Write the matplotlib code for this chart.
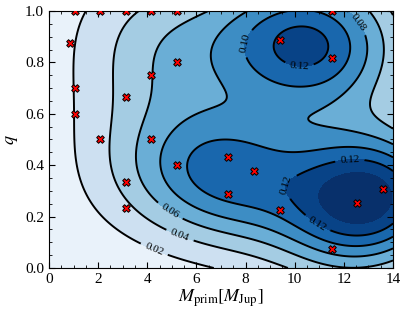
import numpy as np
import matplotlib
matplotlib.use("Agg")
import matplotlib.pyplot as plt

plt.rcParams['font.family'] = 'serif'
plt.rcParams['font.serif'] = ['Liberation Serif', 'DejaVu Serif']
plt.rcParams['mathtext.fontset'] = 'stix'

# planets: primary mass [M_Jup], mass ratio q, weight used in the KDE
m_prim = [1.04, 2.08, 3.12, 4.16, 5.20, 11.50,
          0.85, 1.04, 1.04, 3.12, 4.16, 5.20,
          2.08, 4.16, 5.20, 3.12, 3.12,
          9.40, 11.50, 7.30, 8.36, 7.30, 9.40,
          12.55, 13.60, 11.50]
q_vals = [1.00, 1.00, 1.00, 1.00, 1.00, 1.00,
          0.874, 0.70, 0.60, 0.667, 0.75, 0.80,
          0.50, 0.50, 0.40, 0.335, 0.233,
          0.888, 0.817, 0.431, 0.376, 0.288, 0.224,
          0.252, 0.309, 0.075]
weights = [0.008, 0.014, 0.025, 0.05, 0.078, 0.14,
           0.008, 0.008, 0.008, 0.025, 0.062, 0.19,
           0.014, 0.062, 0.19, 0.034, 0.034,
           0.48, 0.42, 0.22, 0.17, 0.245, 0.04,
           0.62, 0.45, 0.1]

levels = [0.0, 0.02, 0.04, 0.06, 0.08, 0.10, 0.12, 0.14]
line_levels = [0.02, 0.04, 0.06, 0.08, 0.10, 0.12]
label_pos = [(4.4, 0.10), (5.3, 0.12), (12.8, 0.97), (4.85, 0.21),
             (7.8, 0.88), (8.6, 0.36), (10.2, 0.80), (11.1, 0.20),
             (12.3, 0.33)]

bw_x, bw_q = 2.3, 0.18


def weighted_kde(xx, yy):
    w = np.array(weights) / np.sum(weights)
    dens = np.zeros_like(xx)
    for xi, yi, wi in zip(m_prim, q_vals, w):
        dens += wi * np.exp(-0.5 * (((xx - xi) / bw_x) ** 2 + ((yy - yi) / bw_q) ** 2))
    dens /= 2 * np.pi * bw_x * bw_q
    # renormalise inside the plotted domain
    area = (xx[0, 1] - xx[0, 0]) * (yy[1, 0] - yy[0, 0])
    return dens / (dens.sum() * area)


gx = np.linspace(0, 14, 281)
gy = np.linspace(0, 1, 201)
xx, yy = np.meshgrid(gx, gy)
zz = weighted_kde(xx, yy)

fig = plt.figure(figsize=(4.07, 3.14), dpi=100)
ax = fig.add_axes([0.1204, 0.1465, 0.8452, 0.8185])

ax.contourf(xx, yy, zz, levels=levels, cmap='Blues', extend='max')
cs = ax.contour(xx, yy, zz, levels=line_levels, colors='k', linewidths=1.4)
ax.clabel(cs, fmt='%.2f', fontsize=8, inline=True, manual=label_pos)

ax.scatter(m_prim, q_vals, marker='X', s=30, c='red', edgecolors='k',
           linewidths=0.7, zorder=5)

ax.set_xlim(0, 14)
ax.set_ylim(0, 1)
ax.set_xticks(np.arange(0, 15, 2))
ax.set_yticks(np.arange(0, 1.01, 0.2))
ax.set_xticks(np.arange(0, 14.01, 0.5), minor=True)
ax.set_yticks(np.arange(0, 1.001, 0.05), minor=True)
ax.tick_params(which='both', direction='in', top=True, right=True, labelsize=11)
ax.tick_params(which='major', length=4)
ax.tick_params(which='minor', length=2)
ax.set_xlabel(r'$M_\mathrm{prim} [M_\mathrm{Jup}]$', fontsize=13, labelpad=1)
ax.set_ylabel(r'$q$', fontsize=13)

fig.savefig('out.png', dpi=100)
